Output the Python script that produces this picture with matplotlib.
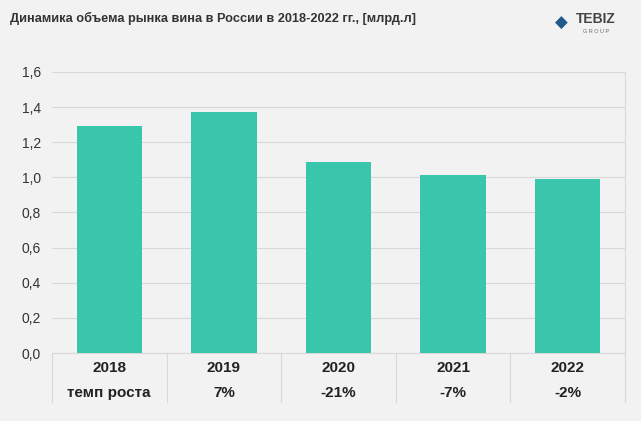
import matplotlib.pyplot as plt
import numpy as np

plt.rcParams["font.family"] = ["Liberation Sans", "DejaVu Sans"]

years = ["2018", "2019", "2020", "2021", "2022"]
volumes = [1.29, 1.37, 1.09, 1.015, 0.99]
growth = ["темп роста", "7%", "-21%", "-7%", "-2%"]
yticks = [0.0, 0.2, 0.4, 0.6, 0.8, 1.0, 1.2, 1.4, 1.6]

bg = "#f2f2f2"
fig = plt.figure(figsize=(6.41, 4.21), dpi=100, facecolor=bg)
ax = fig.add_axes([0.081, 0.1615, 0.894, 0.6675], facecolor=bg)

x = np.arange(len(years))
ax.bar(x, volumes, width=0.57, color="#3ac6ad", zorder=3)
ax.set_xlim(-0.5, len(years) - 0.5)
ax.set_ylim(0, 1.6)
ax.set_yticks(yticks)
ax.set_yticklabels([f"{v:.1f}".replace(".", ",") for v in yticks], fontsize=10, color="#333333")
ax.grid(axis="y", color="#d9d9d9", linewidth=0.8, zorder=0)
ax.set_xticks([])
for s in ["top", "left"]:
    ax.spines[s].set_visible(False)
ax.spines["right"].set_color("#d9d9d9")
ax.spines["bottom"].set_color("#d9d9d9")
ax.tick_params(axis="y", length=0, pad=8)

# table under the axis
for i in range(len(years) + 1):
    ax.plot([i - 0.5, i - 0.5], [0, -0.28], color="#d9d9d9", lw=0.8, clip_on=False)
for i, (yr, g) in enumerate(zip(years, growth)):
    ax.text(i, -0.085, yr, ha="center", va="center", fontsize=11, fontweight="bold", color="#222222")
    ax.text(i, -0.225, g, ha="center", va="center", fontsize=11, fontweight="bold", color="#222222")

fig.text(0.016, 0.957, "Динамика объема рынка вина в России в 2018-2022 гг., [млрд.л]",
         fontsize=9.2, fontweight="bold", color="#333333", va="center")
fig.text(0.93, 0.955, "TEBIZ", fontsize=10, fontweight="bold", color="#444444", ha="center", va="center")
fig.text(0.93, 0.925, "G R O U P", fontsize=4, color="#666666", ha="center", va="center")
fig.text(0.875, 0.945, "◆", fontsize=12, color="#1f5a8a", ha="center", va="center",
         family="DejaVu Sans")

fig.savefig("out.png", dpi=100, facecolor=bg)
